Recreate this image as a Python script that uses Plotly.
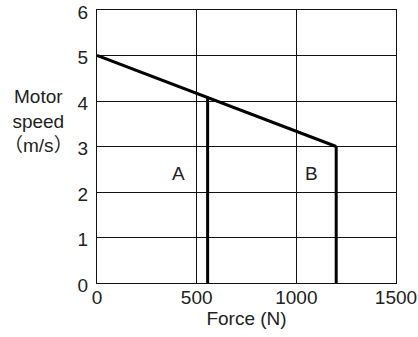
import plotly.graph_objects as go

force_line = [0, 1200]
speed_line = [5, 3]
drop_force = [555, 1200]
drop_speed = [4.07, 3]
region_labels = ["A", "B"]
region_x = [410, 1078]
region_y = [2.4, 2.4]
x_ticks = [0, 500, 1000, 1500]
y_ticks = [0, 1, 2, 3, 4, 5, 6]

FONT = "Liberation Sans, Arial, sans-serif"
CJK = "Noto Sans CJK SC"
fig = go.Figure()
fig.add_trace(go.Scatter(x=force_line, y=speed_line, mode="lines",
                         line=dict(color="black", width=3), showlegend=False))
for fx, sy in zip(drop_force, drop_speed):
    fig.add_trace(go.Scatter(x=[fx, fx], y=[0, sy], mode="lines",
                             line=dict(color="black", width=3), showlegend=False))
for t, x, y in zip(region_labels, region_x, region_y):
    fig.add_annotation(x=x, y=y, text=t, showarrow=False,
                       font=dict(size=19, color="#222", family=FONT))

fig.add_annotation(xref="paper", yref="paper", x=-0.194, y=0.59, xanchor="center",
                   yanchor="middle", showarrow=False, align="center",
                   text=("Motor<br>speed<br><span style=\"font-family:" + CJK + "\">（</span>m/s"
                         "<span style=\"font-family:" + CJK + "\">）</span>"),
                   font=dict(size=19, color="#222", family=FONT))

fig.update_layout(
    width=418, height=337,
    margin=dict(l=97, r=22, t=10, b=54),
    paper_bgcolor="white", plot_bgcolor="white",
    font=dict(family=FONT, size=19, color="#222"),
    xaxis=dict(range=[0, 1500], tickvals=x_ticks, showgrid=True, gridcolor="#111",
               gridwidth=1, showline=True, linecolor="#111", linewidth=1, mirror=True,
               zeroline=False, ticks="", tickfont=dict(size=19), ticklabelstandoff=-3,
               ticklabeloverflow="allow",
               title=dict(text="Force (N)", standoff=4, font=dict(size=19)),
               automargin=False, fixedrange=True),
    yaxis=dict(range=[0, 6], tickvals=y_ticks, showgrid=True, gridcolor="#111",
               gridwidth=1, showline=True, linecolor="#111", linewidth=1, mirror=True,
               zeroline=False, ticks="", ticklabelstandoff=4, ticklabelshift=2,
               ticklabeloverflow="allow",
               tickfont=dict(size=19), automargin=False, fixedrange=True),
)
fig.write_html("out.html", config={"displayModeBar": False},
               post_script="document.body.style.margin='0';document.body.style.overflow='hidden';")
